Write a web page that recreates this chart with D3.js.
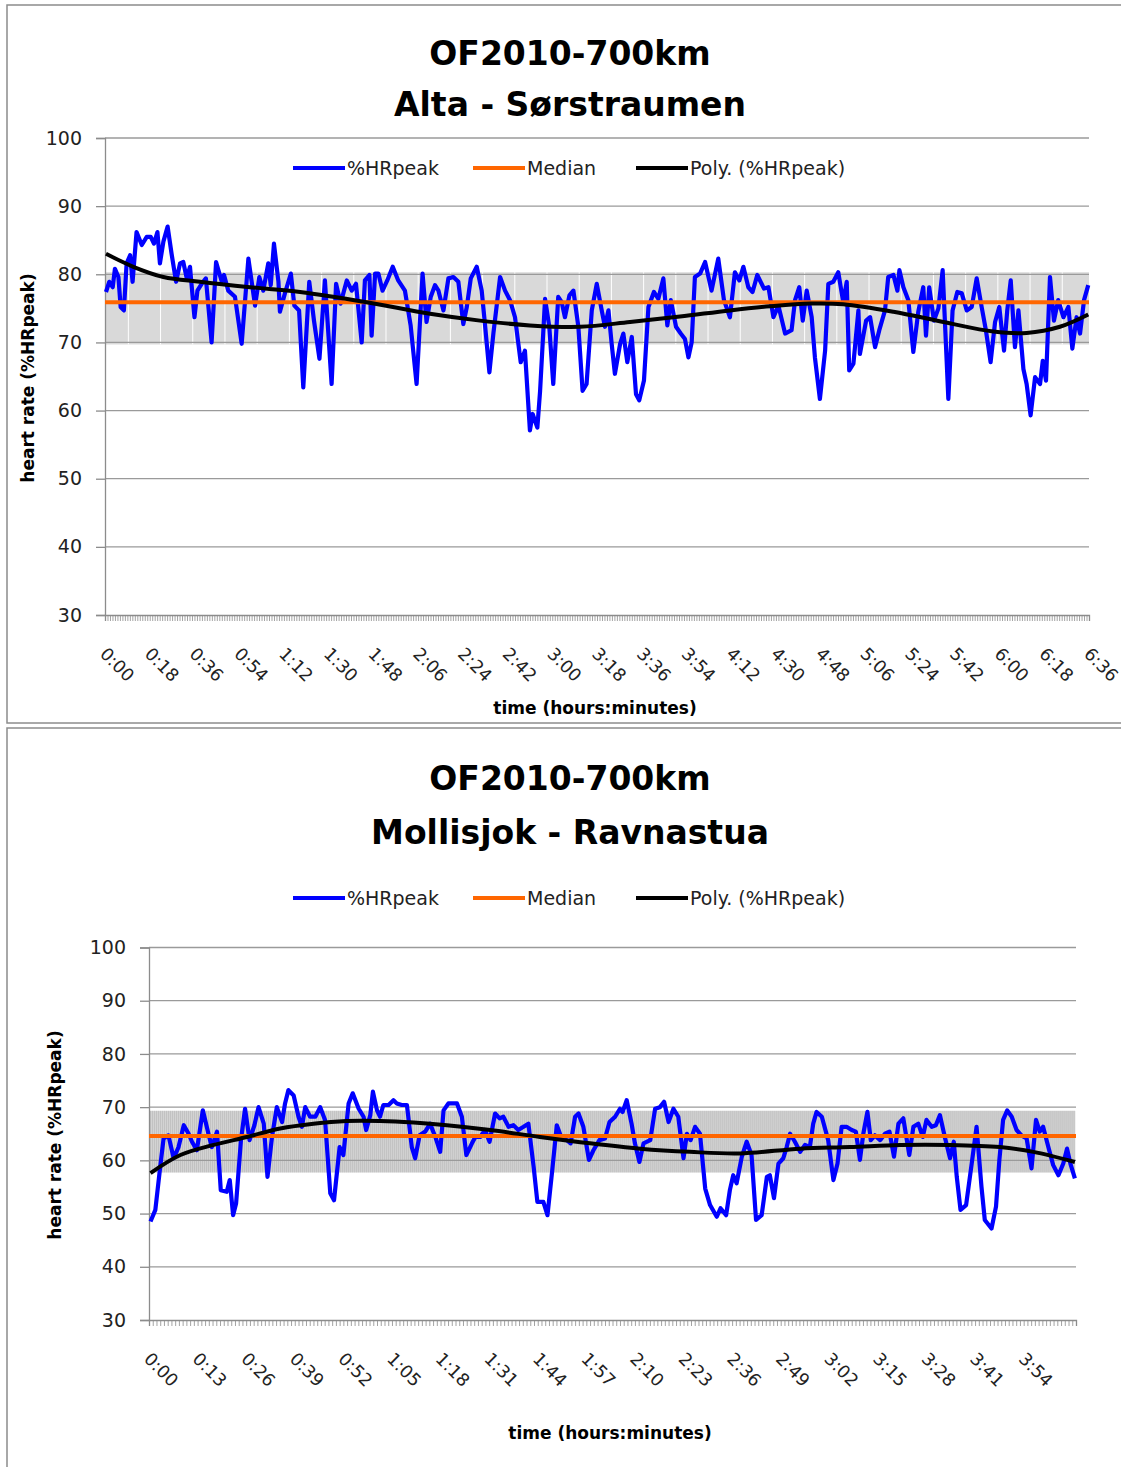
<html>
<head>
<meta charset="utf-8">
<script src="https://d3js.org/d3.v7.min.js"></script>
<style>
  body { margin: 0; background: white; font-family: "DejaVu Sans", Verdana, sans-serif; }
  .title { font-weight: bold; font-size: 33px; }
  .axtitle { font-weight: bold; font-size: 17px; }
  .ticklab { font-size: 17.5px; fill: #222; }
  .leg { font-size: 19px; fill: #222; }
</style>
</head>
<body>
<script>
// ---- data (minutes, %HRpeak) ----

// top chart: Alta - Sørstraumen
var topTicks = d3.range(0, 397, 18);        // label every 18 min, 0:00 .. 6:36
var topMedian = 75.9;
var topBand = [69.7, 80.3];                 // grey range band
var topHR = [
  [0.4,77.4],[1.7,78.9],[3.1,78.1],[4.0,80.8],[5.4,79.6],[6.3,75.2],[7.6,74.7],[8.7,81.6],
  [10.1,82.8],[11.1,78.9],[12.7,86.2],[14.8,84.3],[16.8,85.5],[18.4,85.5],[19.7,84.5],[21.1,86.2],
  [22.1,81.6],[23.5,84.8],[25.2,87.0],[26.8,83.0],[28.6,78.9],[30.2,81.6],[31.5,81.8],[32.9,79.4],
  [34.2,81.1],[36.0,73.7],[37.2,77.6],[38.9,78.6],[40.6,79.4],[42.9,70.0],[44.7,81.8],[47.0,78.9],
  [47.9,79.9],[49.6,77.6],[52.3,76.7],[55.0,69.8],[57.7,82.3],[60.4,75.4],[62.1,79.6],[63.7,77.6],
  [65.7,81.6],[66.7,78.4],[68.0,84.5],[69.8,78.9],[70.4,74.5],[72.4,77.2],[74.8,80.1],[76.2,75.4],
  [78.1,74.7],[79.8,63.4],[82.2,78.9],[84.1,73.2],[86.3,67.6],[88.5,79.1],[91.2,63.9],[93.0,78.6],
  [94.8,75.7],[97.3,79.1],[99.3,77.6],[101.0,78.6],[103.3,70.0],[104.6,79.1],[106.4,79.9],[107.3,71.0],
  [108.7,80.1],[110.0,80.1],[111.7,77.6],[113.6,79.1],[115.8,81.1],[118.0,79.1],[120.7,77.6],[123.0,72.5],
  [125.4,63.9],[127.8,80.1],[129.4,73.0],[131.1,76.7],[132.8,78.4],[134.2,77.6],[136.2,74.7],[138.2,79.4],
  [140.2,79.6],[142.2,78.9],[144.2,72.7],[145.6,75.2],[147.2,79.4],[149.6,81.1],[151.6,77.6],[152.9,72.7],
  [154.7,65.6],[156.3,71.3],[159.0,79.6],[161.0,77.6],[163.0,76.2],[165.0,73.7],[167.3,67.1],[169.0,68.8],
  [171.0,57.1],[172.1,59.5],[174.0,57.5],[175.1,62.9],[177.1,76.4],[178.8,72.3],[180.4,63.9],[182.4,76.7],
  [183.8,75.9],[185.1,73.7],[186.9,76.9],[188.5,77.6],[190.5,72.3],[192.2,62.9],[193.8,63.9],[195.9,74.7],
  [197.9,78.6],[199.9,74.7],[201.2,72.3],[202.6,74.7],[203.9,69.8],[205.2,65.4],[207.3,69.8],[208.6,71.3],
  [210.2,67.1],[212.0,70.8],[213.7,62.4],[215.0,61.5],[216.9,64.4],[218.7,75.2],[220.9,77.4],[222.7,76.4],
  [224.7,79.4],[226.3,72.5],[227.7,76.2],[229.8,72.3],[231.7,71.3],[233.4,70.5],[234.8,67.8],[236.1,70.0],
  [237.4,79.6],[239.5,80.1],[241.5,81.8],[244.1,77.6],[246.8,82.3],[249.1,76.2],[251.5,73.7],[253.5,80.3],
  [255.3,79.1],[256.9,81.1],[258.9,78.1],[260.6,77.4],[262.5,79.9],[265.2,77.9],[267.0,78.1],[269.0,73.7],
  [271.0,75.4],[273.7,71.3],[276.3,71.8],[277.7,76.2],[279.4,78.1],[280.8,73.2],[282.4,77.6],[284.4,73.7],
  [285.7,67.8],[287.7,61.7],[289.8,68.8],[291.1,78.6],[293.1,78.9],[295.1,80.3],[297.1,75.9],[298.5,78.9],
  [299.5,65.9],[301.2,66.9],[303.2,74.7],[303.8,68.3],[306.3,73.2],[307.9,73.7],[309.9,69.3],[311.6,71.8],
  [313.9,74.7],[315.2,79.6],[317.3,79.9],[318.9,77.6],[319.7,80.6],[321.3,78.1],[323.3,76.2],[325.3,68.6],
  [327.3,74.5],[329.3,78.1],[330.4,71.0],[331.7,78.1],[333.6,73.2],[335.4,75.0],[337.1,80.6],[339.4,61.7],
  [341.1,74.7],[343.0,77.4],[344.8,77.2],[346.8,74.7],[348.8,75.2],[350.8,79.4],[352.8,75.2],[354.5,71.8],
  [356.4,67.1],[358.2,73.0],[359.9,75.2],[361.8,68.8],[363.1,74.7],[364.5,79.1],[366.2,69.3],[367.6,74.7],
  [369.6,66.1],[370.9,63.9],[372.5,59.3],[374.3,64.9],[376.3,63.9],[377.4,67.3],[378.7,64.4],[380.3,79.6],
  [381.9,73.2],[383.6,76.2],[385.7,73.7],[387.7,75.2],[389.3,69.1],[391.0,73.7],[392.4,71.3],[394.0,76.2],
  [395.7,78.4]
];
var topPoly = [
  [0.4,83.0],[11.4,81.1],[23.5,79.6],[38.2,78.9],[58.4,78.1],[78.5,77.4],[105.3,75.9],[130.8,74.2],
  [150.9,73.2],[171.0,72.5],[191.2,72.3],[211.3,73.0],[231.4,73.8],[251.5,74.7],[267.6,75.3],[283.7,75.7],
  [297.1,75.6],[317.3,74.5],[337.4,73.0],[357.5,71.6],[370.9,71.4],[384.3,72.3],[395.7,74.1]
];

// bottom chart: Mollisjok - Ravnastua
var botTicks = d3.range(0, 235, 13);        // label every 13 min, 0:00 .. 3:54
var botMedian = 64.6;
var botBand = [57.7, 69.3];
var botHR = [
  [0.4,48.5],[1.7,50.7],[3.0,58.8],[3.9,64.1],[5.2,64.7],[6.6,60.4],[7.9,62.5],[9.3,66.6],
  [10.6,65.0],[11.5,63.5],[12.8,61.9],[14.4,69.4],[15.9,65.0],[16.8,62.5],[18.2,65.4],[19.2,54.4],
  [20.8,54.1],[21.6,56.3],[22.5,49.7],[23.3,51.9],[24.6,63.8],[25.7,69.7],[26.9,63.8],[28.2,66.6],
  [29.3,70.0],[30.7,66.9],[31.7,56.9],[32.9,64.4],[34.2,70.0],[35.6,67.2],[36.4,70.7],[37.3,73.2],
  [38.7,72.2],[40.0,68.2],[40.9,66.3],[41.8,70.0],[43.1,68.2],[44.5,68.2],[45.8,70.0],[47.1,67.6],
  [48.5,53.8],[49.5,52.5],[51.0,62.5],[52.0,61.0],[53.4,70.7],[54.5,72.6],[56.1,69.7],[57.4,68.2],
  [58.1,65.7],[59.2,68.5],[59.9,72.9],[61.0,69.4],[61.8,68.2],[62.7,70.4],[64.1,70.4],[65.4,71.3],
  [66.3,70.7],[67.6,70.4],[69.0,70.4],[70.3,62.5],[71.2,60.4],[72.4,64.7],[73.9,65.4],[75.2,66.9],
  [76.6,64.4],[77.9,61.6],[78.8,69.4],[80.1,70.7],[82.4,70.7],[83.7,68.2],[84.9,61.0],[86.4,63.2],
  [87.3,64.4],[88.6,64.4],[89.9,65.7],[91.1,63.5],[92.6,68.8],[93.8,67.9],[94.8,68.2],[96.2,66.3],
  [97.5,66.6],[98.8,65.7],[100.2,66.3],[101.5,66.9],[102.9,58.8],[103.9,52.2],[105.5,52.2],[106.6,49.7],
  [107.8,57.6],[109.1,66.6],[110.4,64.1],[111.8,63.8],[112.8,63.2],[114.0,68.2],[114.9,68.8],[116.2,66.3],
  [117.7,60.1],[118.9,61.9],[120.5,63.8],[122.0,64.1],[123.2,67.2],[124.7,68.2],[126.0,69.7],[126.7,69.1],
  [127.8,71.3],[129.1,66.9],[130.0,63.2],[131.2,59.7],[132.3,63.2],[134.1,63.8],[135.4,69.7],[136.7,70.0],
  [137.8,71.0],[139.0,67.2],[140.3,69.7],[141.6,68.2],[143.0,60.4],[143.9,65.0],[144.9,63.8],[146.1,66.3],
  [147.4,65.0],[148.8,54.7],[150.1,51.6],[151.9,49.4],[152.9,51.0],[154.4,49.7],[155.4,54.4],[156.3,57.2],
  [157.2,55.7],[158.6,60.7],[159.9,63.5],[161.2,61.0],[162.4,48.8],[163.9,49.7],[165.3,56.9],[166.1,57.2],
  [167.2,52.9],[168.4,59.4],[169.7,60.4],[170.6,62.5],[171.5,65.0],[172.8,63.5],[174.2,61.6],[175.5,62.9],
  [176.8,62.5],[177.7,66.9],[178.6,69.1],[180.0,68.2],[181.7,63.8],[183.1,56.3],[184.2,59.4],[185.3,66.3],
  [186.6,66.3],[188.0,65.7],[189.1,65.4],[190.2,60.1],[191.1,65.0],[192.2,69.1],[193.1,63.8],[194.2,64.7],
  [195.6,63.8],[196.9,65.0],[198.1,65.4],[199.3,60.7],[200.5,66.9],[201.8,67.9],[203.4,61.0],[204.5,66.3],
  [205.8,66.9],[207.0,64.4],[208.0,67.6],[209.4,66.3],[210.5,66.6],[211.6,68.5],[212.9,64.4],[214.3,60.4],
  [215.3,63.5],[216.1,56.9],[217.1,50.7],[218.6,51.6],[220.1,59.4],[221.4,66.3],[222.7,55.1],[223.6,48.8],
  [225.4,47.2],[226.6,51.3],[227.5,60.1],[228.5,67.6],[229.6,69.4],[230.8,68.2],[232.1,65.7],[233.4,64.7],
  [234.8,64.1],[236.1,58.5],[237.3,67.6],[238.3,65.4],[239.2,66.3],[240.6,62.5],[241.9,59.1],[243.3,57.2],
  [244.6,59.4],[245.6,62.2],[246.5,59.4],[247.7,56.6]
];
var botPoly = [
  [0.4,57.6],[8.4,61.0],[17.3,62.9],[26.2,64.4],[35.1,66.0],[44.0,66.9],[52.9,67.4],[61.8,67.4],
  [70.8,67.1],[79.7,66.6],[91.3,65.7],[104.6,64.4],[118.0,63.2],[131.4,62.2],[144.7,61.6],[158.1,61.3],
  [174.2,62.2],[187.5,62.5],[200.9,62.9],[214.3,62.9],[227.6,62.5],[236.6,61.6],[247.7,59.7]
];

var yTicks = [30, 40, 50, 60, 70, 80, 90, 100];
var legendNames = ["%HRpeak", "Median", "Poly. (%HRpeak)"];
var legendColors = ["#0000ff", "#ff6600", "#000000"];

var W = 1121, H = 1467;
var svg = d3.select("body").append("svg").attr("width", W).attr("height", H);

function fmt(m) {
  var h = Math.floor(m / 60), mm = m % 60;
  return h + ":" + (mm < 10 ? "0" : "") + mm;
}

function panel(p) {
  var g = svg.append("g");

  // frame
  g.append("rect").attr("x", 7).attr("y", p.frameTop).attr("width", W).attr("height", p.frameH)
    .attr("fill", "none").attr("stroke", "#8c8c8c").attr("stroke-width", 1.5);

  var x = d3.scaleLinear().domain([0, p.maxMin]).range([p.x0, p.x1]);
  var y = d3.scaleLinear().domain([30, 100]).range([p.yBot, p.yTop]);

  // titles
  g.append("text").attr("class", "title").attr("x", 570).attr("y", p.titleY)
    .attr("text-anchor", "middle").text("OF2010-700km");
  g.append("text").attr("class", "title").attr("x", 570).attr("y", p.titleY + p.titleGap)
    .attr("text-anchor", "middle").text(p.sub);

  // band
  if (p.striped) {
    g.append("rect").attr("x", p.x0).attr("width", p.x1 - p.x0)
      .attr("y", y(p.band[1])).attr("height", y(p.band[0]) - y(p.band[1])).attr("fill", "#f2f2f2");
    g.selectAll(".stripe").data(d3.range(0.3, p.maxMin, 0.535)).enter().append("line")
      .attr("x1", d => x(d)).attr("x2", d => x(d))
      .attr("y1", y(p.band[1])).attr("y2", y(p.band[0]))
      .attr("stroke", "#aaaaaa").attr("stroke-width", 1.1);
  } else {
    g.append("rect").attr("x", p.x0).attr("width", p.x1 - p.x0)
      .attr("y", y(p.band[1])).attr("height", y(p.band[0]) - y(p.band[1])).attr("fill", "#d9d9d9");
    g.selectAll(".gap").data(d3.range(9.4, p.maxMin, 12.96)).enter().append("line")
      .attr("x1", d => x(d)).attr("x2", d => x(d))
      .attr("y1", y(p.band[1])).attr("y2", y(p.band[0]))
      .attr("stroke", "#ffffff").attr("stroke-width", 1);
  }

  // gridlines
  g.selectAll(".grid").data(yTicks.slice(1)).enter().append("line")
    .attr("x1", p.x0).attr("x2", p.x1).attr("y1", d => y(d)).attr("y2", d => y(d))
    .attr("stroke", "#9a9a9a").attr("stroke-width", 1.3);

  // y axis
  var yAxis = d3.axisLeft(y).tickValues(yTicks).tickSize(9).tickPadding(14);
  var ya = g.append("g").attr("transform", "translate(" + p.x0 + ",0)").call(yAxis);
  ya.select(".domain").attr("stroke", "#8c8c8c").attr("stroke-width", 1.3);
  ya.selectAll(".tick line").attr("stroke", "#8c8c8c").attr("stroke-width", 1.3);
  ya.selectAll("text").style("font-family", "DejaVu Sans").style("font-size", "19px").attr("fill", "#222");

  // x axis: one tick per minute
  var xAxis = d3.axisBottom(x).tickValues(d3.range(0, p.maxMin + 0.01, 1)).tickSize(6).tickFormat("");
  var xa = g.append("g").attr("transform", "translate(0," + p.yBot + ")").call(xAxis);
  xa.select(".domain").attr("stroke", "#8c8c8c").attr("stroke-width", 1.3);
  xa.selectAll(".tick line").attr("stroke", "#8c8c8c").attr("stroke-width", 0.8);

  g.selectAll(".xl").data(p.ticks).enter().append("text")
    .attr("class", "ticklab")
    .attr("transform", d => "translate(" + (x(d) - 6) + "," + (p.yBot + 40) + ") rotate(45)")
    .text(fmt);

  // series
  var line = d3.line().x(d => x(d[0])).y(d => y(d[1]));
  g.append("path").datum(p.hr).attr("d", line).attr("fill", "none")
    .attr("stroke", legendColors[0]).attr("stroke-width", 4.2).attr("stroke-linejoin", "round");
  g.append("line").attr("x1", p.x0).attr("x2", p.x1)
    .attr("y1", y(p.median)).attr("y2", y(p.median))
    .attr("stroke", legendColors[1]).attr("stroke-width", 4);
  g.append("path").datum(p.poly).attr("d", line.curve(d3.curveCatmullRom)).attr("fill", "none")
    .attr("stroke", legendColors[2]).attr("stroke-width", 4);

  // legend
  var lx = [293, 473, 636];
  legendNames.forEach(function (n, i) {
    g.append("line").attr("x1", lx[i]).attr("x2", lx[i] + 52)
      .attr("y1", p.legY).attr("y2", p.legY)
      .attr("stroke", legendColors[i]).attr("stroke-width", 4);
    g.append("text").attr("class", "leg").attr("x", lx[i] + 54).attr("y", p.legY + 7).text(n);
  });

  // axis titles
  g.append("text").attr("class", "axtitle").attr("x", p.xtX).attr("y", p.xtY)
    .attr("text-anchor", "middle").text("time (hours:minutes)");
  g.append("text").attr("class", "axtitle")
    .attr("transform", "translate(" + p.ytX + "," + p.ytY + ") rotate(-90)")
    .attr("text-anchor", "middle").text("heart rate (%HRpeak)");
}

panel({
  frameTop: 5, frameH: 718, sub: "Alta - Sørstraumen", titleY: 65, titleGap: 51,
  x0: 105, x1: 1089, yTop: 138, yBot: 615, maxMin: 396,
  ticks: topTicks, hr: topHR, poly: topPoly, median: topMedian, band: topBand, striped: false,
  legY: 168, xtX: 595, xtY: 714, ytX: 34, ytY: 378
});

panel({
  frameTop: 728, frameH: 760, sub: "Mollisjok - Ravnastua", titleY: 790, titleGap: 54,
  x0: 149, x1: 1076, yTop: 947.5, yBot: 1320, maxMin: 248,
  ticks: botTicks, hr: botHR, poly: botPoly, median: botMedian, band: botBand, striped: true,
  legY: 898, xtX: 610, xtY: 1439, ytX: 61, ytY: 1135
});
</script>
</body>
</html>
